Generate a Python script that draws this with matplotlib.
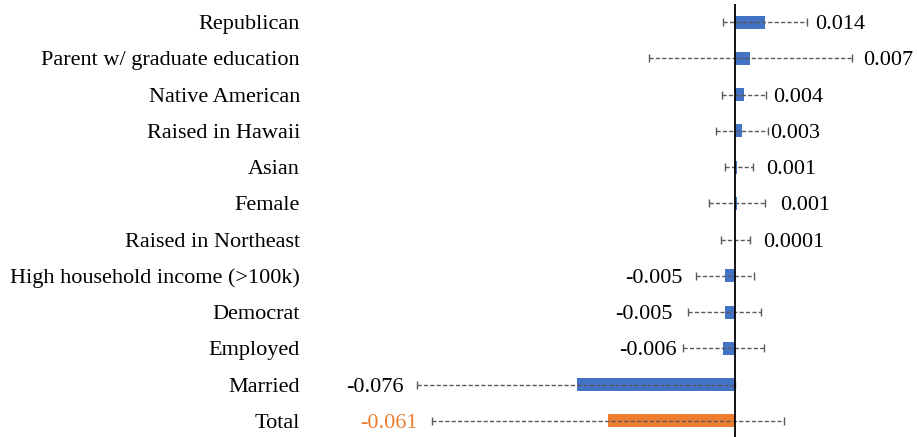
import matplotlib
matplotlib.use("Agg")
import matplotlib.pyplot as plt
import numpy as np

categories = ["Republican", "Parent w/ graduate education", "Native American",
              "Raised in Hawaii", "Asian", "Female", "Raised in Northeast",
              "High household income (>100k)", "Democrat", "Employed",
              "Married", "Total"]
values = [0.014, 0.007, 0.004, 0.003, 0.001, 0.001, 0.0001,
          -0.005, -0.005, -0.006, -0.076, -0.061]
value_labels = ["0.014", "0.007", "0.004", "0.003", "0.001", "0.001", "0.0001",
                "-0.005", "-0.005", "-0.006", "-0.076", "-0.061"]
ci_low = [-0.0058, -0.0412, -0.0065, -0.0094, -0.0049, -0.0125, -0.0070,
          -0.0188, -0.0225, -0.0252, -0.1527, -0.1452]
ci_high = [0.0342, 0.0558, 0.0146, 0.0155, 0.0083, 0.0142, 0.0070,
           0.0090, 0.0122, 0.0139, 0.0000, 0.0233]

# gap (points) between error-bar cap and its value label
label_gap = [6, 8, 5.3, 1.7, 10, 10.8, 9.4, 9.4, 11.2, 4.3, 9.1, 10.8]

blue = "#4472C4"
orange = "#ED7D31"
colors = [orange if c == "Total" else blue for c in categories]

plt.rcParams['font.family'] = ['Liberation Serif', 'DejaVu Serif']

fig = plt.figure(figsize=(9.17, 4.37), dpi=100)
ax = fig.add_axes([0.35, -0.0046, 0.65, 0.9954])

y = np.arange(len(categories))
vals = np.array(values)
lo = np.array(ci_low)
hi = np.array(ci_high)

ax.barh(y, vals, height=0.36, color=colors, zorder=2)
xerr = np.vstack([vals - lo, hi - vals])
eb = ax.errorbar(vals, y, xerr=xerr, fmt='none', ecolor="#5a5a5a",
                 elinewidth=1.0, capsize=3.0, capthick=1.0, zorder=3)
eb[2][0].set_linestyle((0, (3, 1.6)))

ax.axvline(0, color="black", linewidth=1.3, zorder=4)

ax.set_xlim(-0.1985, 0.08706)
ax.set_ylim(len(categories) - 0.5, -0.5)

ax.set_yticks(y)
ax.set_yticklabels(categories, fontsize=16)
ax.tick_params(axis='y', length=0, pad=15)
ax.set_xticks([])
for s in ax.spines.values():
    s.set_visible(False)

for i, (v, lab) in enumerate(zip(values, value_labels)):
    col = orange if categories[i] == "Total" else "black"
    g = label_gap[i]
    if v >= 0:
        ax.annotate(lab, xy=(hi[i], i), xytext=(g, 0), textcoords='offset points',
                    ha='left', va='center_baseline', fontsize=16, color=col)
    else:
        ax.annotate(lab, xy=(lo[i], i), xytext=(-g, 0), textcoords='offset points',
                    ha='right', va='center_baseline', fontsize=16, color=col)

fig.savefig("out.png", dpi=100)
